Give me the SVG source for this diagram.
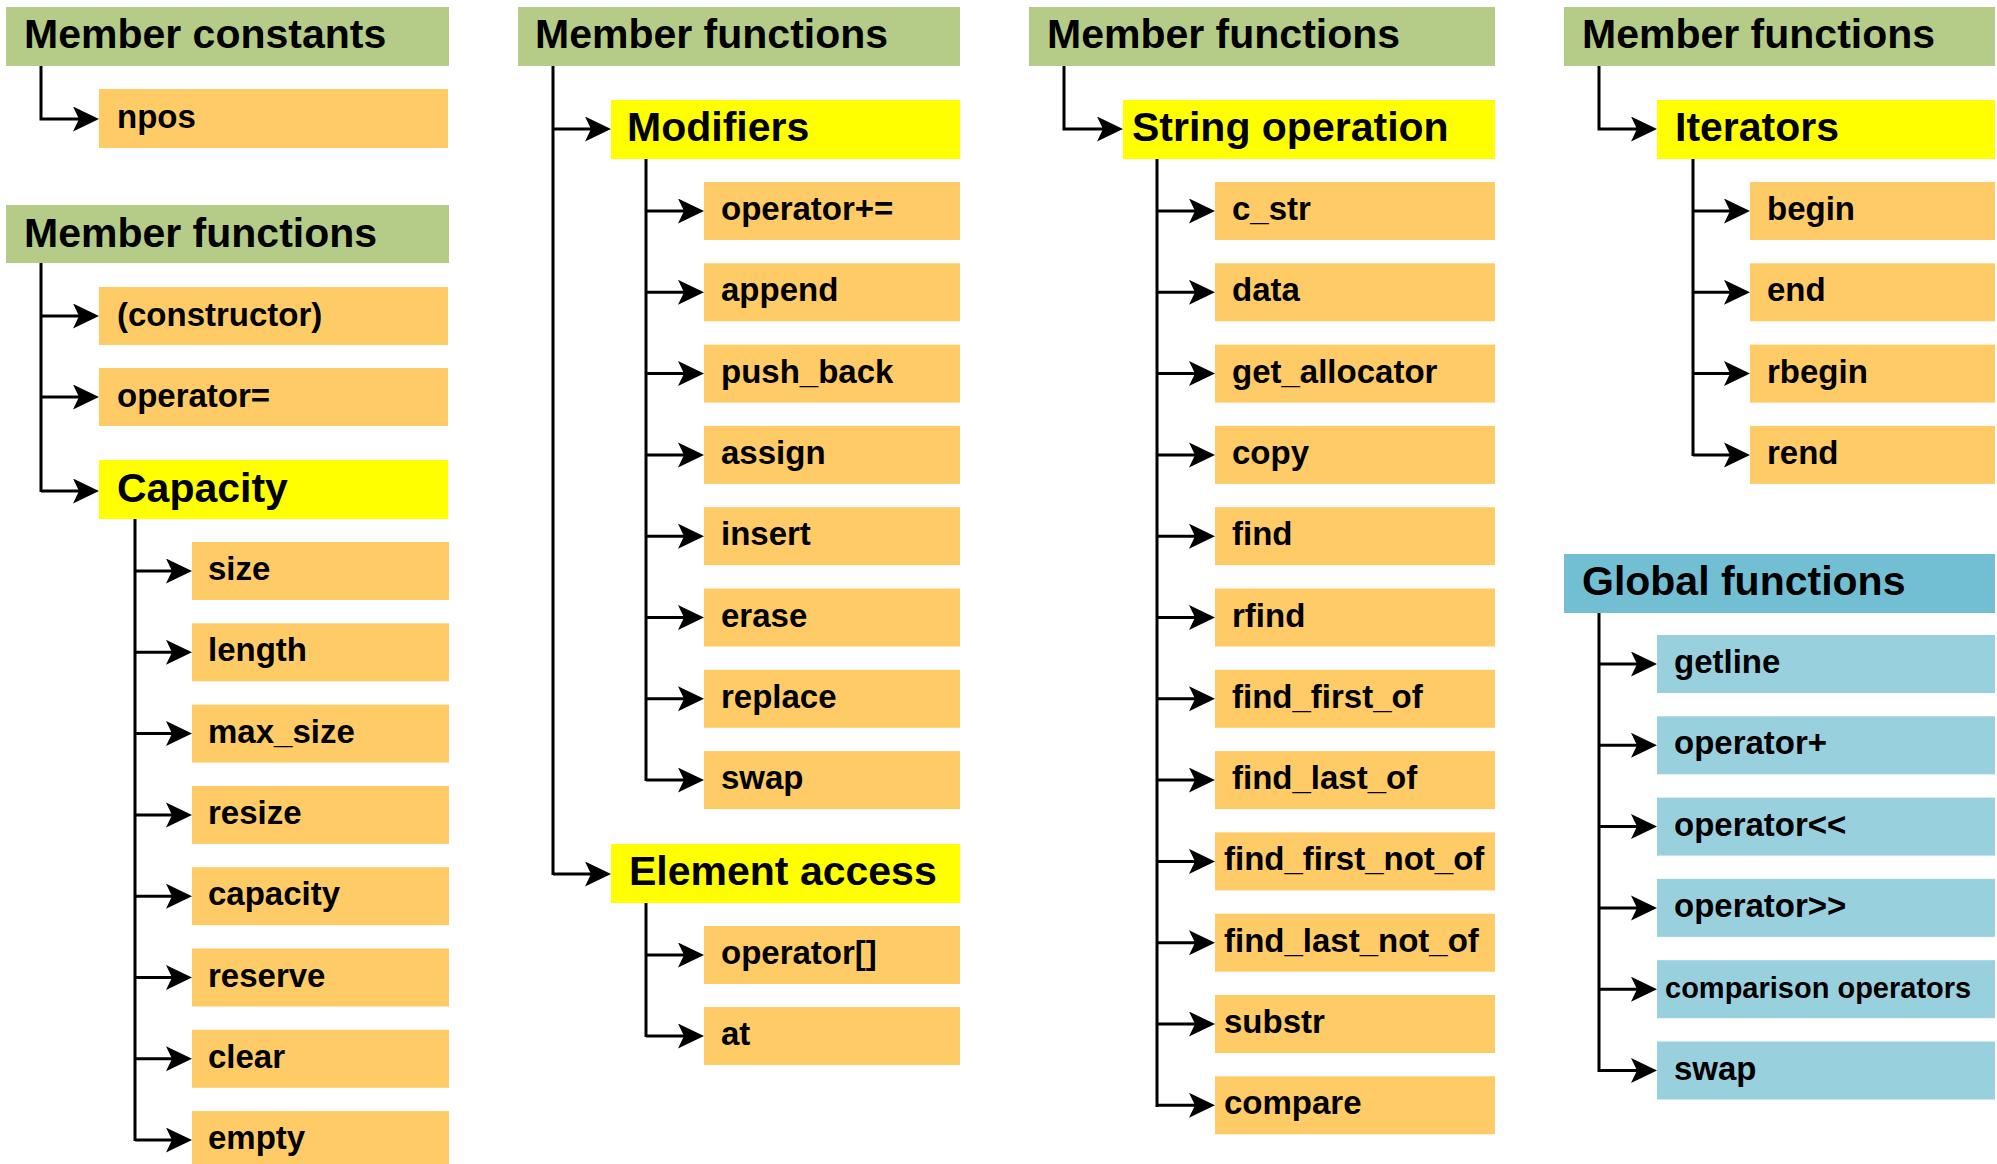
<svg xmlns="http://www.w3.org/2000/svg" width="1997" height="1164" viewBox="0 0 1997 1164">
<style>
.hd{fill:#B5CB88}
.sub{fill:#FFFF00}
.lf{fill:#FECB66}
.gh{fill:#72BFD3}
.gl{fill:#99D0DD}
text{font-family:"Liberation Sans",Arial,sans-serif;font-weight:bold;fill:#000}
.t40{font-size:41px}
.t32{font-size:33px}
.t29{font-size:29px}
.cn path{fill:none;stroke:#000;stroke-width:3;marker-end:url(#ah)}
.cn path.v{marker-end:none}
</style>
<defs>
<marker id="ah" markerUnits="userSpaceOnUse" markerWidth="28" markerHeight="27" refX="6" refY="12.5" orient="auto" viewBox="0 0 28 27">
<path d="M0,0 L26,12.5 L0,25 L6,12.5 Z" fill="#000"/>
</marker>
</defs>
<rect width="1997" height="1164" fill="#fff"/>

<g class="cn" id="connectors">
<!-- column 1 -->
<path d="M41,66 V119 H79"/>
<path class="v" d="M41,263 V492"/>
<path d="M41,316 H79"/>
<path d="M41,397 H79"/>
<path d="M41,491 H79"/>
<path class="v" d="M135,519 V1141"/>
<path d="M135,571 H172"/>
<path d="M135,652.3 H172"/>
<path d="M135,733.6 H172"/>
<path d="M135,814.9 H172"/>
<path d="M135,896.2 H172"/>
<path d="M135,977.5 H172"/>
<path d="M135,1058.8 H172"/>
<path d="M135,1140.1 H172"/>
<!-- column 2 -->
<path class="v" d="M553,66 V875"/>
<path d="M553,129 H591"/>
<path d="M553,874 H591"/>
<path class="v" d="M646,159 V781"/>
<path d="M646,211 H684"/>
<path d="M646,292.3 H684"/>
<path d="M646,373.6 H684"/>
<path d="M646,454.9 H684"/>
<path d="M646,536.2 H684"/>
<path d="M646,617.5 H684"/>
<path d="M646,698.8 H684"/>
<path d="M646,780.1 H684"/>
<path class="v" d="M646,903 V1037"/>
<path d="M646,955 H684"/>
<path d="M646,1036 H684"/>
<!-- column 3 -->
<path d="M1064,66 V129 H1103"/>
<path class="v" d="M1157,159 V1107"/>
<path d="M1157,211 H1195"/>
<path d="M1157,292.3 H1195"/>
<path d="M1157,373.6 H1195"/>
<path d="M1157,454.9 H1195"/>
<path d="M1157,536.2 H1195"/>
<path d="M1157,617.5 H1195"/>
<path d="M1157,698.8 H1195"/>
<path d="M1157,780.1 H1195"/>
<path d="M1157,861.4 H1195"/>
<path d="M1157,942.7 H1195"/>
<path d="M1157,1024 H1195"/>
<path d="M1157,1105.3 H1195"/>
<!-- column 4 -->
<path d="M1599,66 V129 H1637"/>
<path class="v" d="M1693,159 V456"/>
<path d="M1693,211 H1730"/>
<path d="M1693,292.3 H1730"/>
<path d="M1693,373.6 H1730"/>
<path d="M1693,454.9 H1730"/>
<path class="v" d="M1599,613 V1072"/>
<path d="M1599,664 H1637"/>
<path d="M1599,745.3 H1637"/>
<path d="M1599,826.6 H1637"/>
<path d="M1599,907.9 H1637"/>
<path d="M1599,989.2 H1637"/>
<path d="M1599,1070.5 H1637"/>
</g>

<!-- column 1 -->
<g id="member-constants"><rect class="hd" x="6" y="7" width="443" height="59"/><text class="t40" x="24" y="48">Member constants</text></g>
<g id="npos"><rect class="lf" x="99" y="89" width="349" height="59"/><text class="t32" x="117" y="128">npos</text></g>
<g id="member-functions-1"><rect class="hd" x="6" y="205" width="443" height="58"/><text class="t40" x="24" y="247">Member functions</text></g>
<g id="constructor"><rect class="lf" x="99" y="287" width="349" height="58"/><text class="t32" x="117" y="326">(constructor)</text></g>
<g id="operator-assign"><rect class="lf" x="99" y="368" width="349" height="58"/><text class="t32" x="117" y="407">operator=</text></g>
<g id="capacity"><rect class="sub" x="99" y="460" width="349" height="59"/><text class="t40" x="117" y="502">Capacity</text></g>
<g id="size"><rect class="lf" x="192" y="542" width="257" height="58"/><text class="t32" x="208" y="580">size</text></g>
<g id="length"><rect class="lf" x="192" y="623.3" width="257" height="58"/><text class="t32" x="208" y="661.3">length</text></g>
<g id="max_size"><rect class="lf" x="192" y="704.6" width="257" height="58"/><text class="t32" x="208" y="742.6">max_size</text></g>
<g id="resize"><rect class="lf" x="192" y="785.9" width="257" height="58"/><text class="t32" x="208" y="823.9">resize</text></g>
<g id="capacity-fn"><rect class="lf" x="192" y="867.2" width="257" height="58"/><text class="t32" x="208" y="905.2">capacity</text></g>
<g id="reserve"><rect class="lf" x="192" y="948.5" width="257" height="58"/><text class="t32" x="208" y="986.5">reserve</text></g>
<g id="clear"><rect class="lf" x="192" y="1029.8" width="257" height="58"/><text class="t32" x="208" y="1067.8">clear</text></g>
<g id="empty"><rect class="lf" x="192" y="1111.1" width="257" height="58"/><text class="t32" x="208" y="1149.1">empty</text></g>

<!-- column 2 -->
<g id="member-functions-2"><rect class="hd" x="518" y="7" width="442" height="59"/><text class="t40" x="535" y="48">Member functions</text></g>
<g id="modifiers"><rect class="sub" x="611" y="100" width="349" height="59"/><text class="t40" x="627" y="141">Modifiers</text></g>
<g id="operator-plus-assign"><rect class="lf" x="704" y="182" width="256" height="58"/><text class="t32" x="721" y="220">operator+=</text></g>
<g id="append"><rect class="lf" x="704" y="263.3" width="256" height="58"/><text class="t32" x="721" y="301.3">append</text></g>
<g id="push_back"><rect class="lf" x="704" y="344.6" width="256" height="58"/><text class="t32" x="721" y="382.6">push_back</text></g>
<g id="assign"><rect class="lf" x="704" y="425.9" width="256" height="58"/><text class="t32" x="721" y="463.9">assign</text></g>
<g id="insert"><rect class="lf" x="704" y="507.2" width="256" height="58"/><text class="t32" x="721" y="545.2">insert</text></g>
<g id="erase"><rect class="lf" x="704" y="588.5" width="256" height="58"/><text class="t32" x="721" y="626.5">erase</text></g>
<g id="replace"><rect class="lf" x="704" y="669.8" width="256" height="58"/><text class="t32" x="721" y="707.8">replace</text></g>
<g id="swap-1"><rect class="lf" x="704" y="751.1" width="256" height="58"/><text class="t32" x="721" y="789.1">swap</text></g>
<g id="element-access"><rect class="sub" x="611" y="844" width="349" height="59"/><text class="t40" x="629" y="885">Element access</text></g>
<g id="operator-index"><rect class="lf" x="704" y="926" width="256" height="58"/><text class="t32" x="721" y="964">operator[]</text></g>
<g id="at"><rect class="lf" x="704" y="1007" width="256" height="58"/><text class="t32" x="721" y="1045">at</text></g>

<!-- column 3 -->
<g id="member-functions-3"><rect class="hd" x="1029" y="7" width="466" height="59"/><text class="t40" x="1047" y="48">Member functions</text></g>
<g id="string-operation"><rect class="sub" x="1123" y="100" width="372" height="59"/><text class="t40" x="1132" y="141">String operation</text></g>
<g id="c_str"><rect class="lf" x="1215" y="182" width="280" height="58"/><text class="t32" x="1232" y="220">c_str</text></g>
<g id="data"><rect class="lf" x="1215" y="263.3" width="280" height="58"/><text class="t32" x="1232" y="301.3">data</text></g>
<g id="get_allocator"><rect class="lf" x="1215" y="344.6" width="280" height="58"/><text class="t32" x="1232" y="382.6">get_allocator</text></g>
<g id="copy"><rect class="lf" x="1215" y="425.9" width="280" height="58"/><text class="t32" x="1232" y="463.9">copy</text></g>
<g id="find"><rect class="lf" x="1215" y="507.2" width="280" height="58"/><text class="t32" x="1232" y="545.2">find</text></g>
<g id="rfind"><rect class="lf" x="1215" y="588.5" width="280" height="58"/><text class="t32" x="1232" y="626.5">rfind</text></g>
<g id="find_first_of"><rect class="lf" x="1215" y="669.8" width="280" height="58"/><text class="t32" x="1232" y="707.8">find_first_of</text></g>
<g id="find_last_of"><rect class="lf" x="1215" y="751.1" width="280" height="58"/><text class="t32" x="1232" y="789.1">find_last_of</text></g>
<g id="find_first_not_of"><rect class="lf" x="1215" y="832.4" width="280" height="58"/><text class="t32" x="1224" y="870.4">find_first_not_of</text></g>
<g id="find_last_not_of"><rect class="lf" x="1215" y="913.7" width="280" height="58"/><text class="t32" x="1224" y="951.7">find_last_not_of</text></g>
<g id="substr"><rect class="lf" x="1215" y="995" width="280" height="58"/><text class="t32" x="1224" y="1033">substr</text></g>
<g id="compare"><rect class="lf" x="1215" y="1076.3" width="280" height="58"/><text class="t32" x="1224" y="1114.3">compare</text></g>

<!-- column 4 -->
<g id="member-functions-4"><rect class="hd" x="1564" y="7" width="431" height="59"/><text class="t40" x="1582" y="48">Member functions</text></g>
<g id="iterators"><rect class="sub" x="1657" y="100" width="338" height="59"/><text class="t40" x="1675" y="141">Iterators</text></g>
<g id="begin"><rect class="lf" x="1750" y="182" width="245" height="58"/><text class="t32" x="1767" y="220">begin</text></g>
<g id="end"><rect class="lf" x="1750" y="263.3" width="245" height="58"/><text class="t32" x="1767" y="301.3">end</text></g>
<g id="rbegin"><rect class="lf" x="1750" y="344.6" width="245" height="58"/><text class="t32" x="1767" y="382.6">rbegin</text></g>
<g id="rend"><rect class="lf" x="1750" y="425.9" width="245" height="58"/><text class="t32" x="1767" y="463.9">rend</text></g>
<g id="global-functions"><rect class="gh" x="1564" y="554" width="431" height="59"/><text class="t40" x="1582" y="595">Global functions</text></g>
<g id="getline"><rect class="gl" x="1657" y="635" width="338" height="58"/><text class="t32" x="1674" y="673">getline</text></g>
<g id="operator-plus"><rect class="gl" x="1657" y="716.3" width="338" height="58"/><text class="t32" x="1674" y="754.3">operator+</text></g>
<g id="operator-out"><rect class="gl" x="1657" y="797.6" width="338" height="58"/><text class="t32" x="1674" y="835.6">operator&lt;&lt;</text></g>
<g id="operator-in"><rect class="gl" x="1657" y="878.9" width="338" height="58"/><text class="t32" x="1674" y="916.9">operator&gt;&gt;</text></g>
<g id="comparison-operators"><rect class="gl" x="1657" y="960.2" width="338" height="58"/><text class="t29" x="1665" y="998.2">comparison operators</text></g>
<g id="swap-2"><rect class="gl" x="1657" y="1041.5" width="338" height="58"/><text class="t32" x="1674" y="1079.5">swap</text></g>
</svg>
